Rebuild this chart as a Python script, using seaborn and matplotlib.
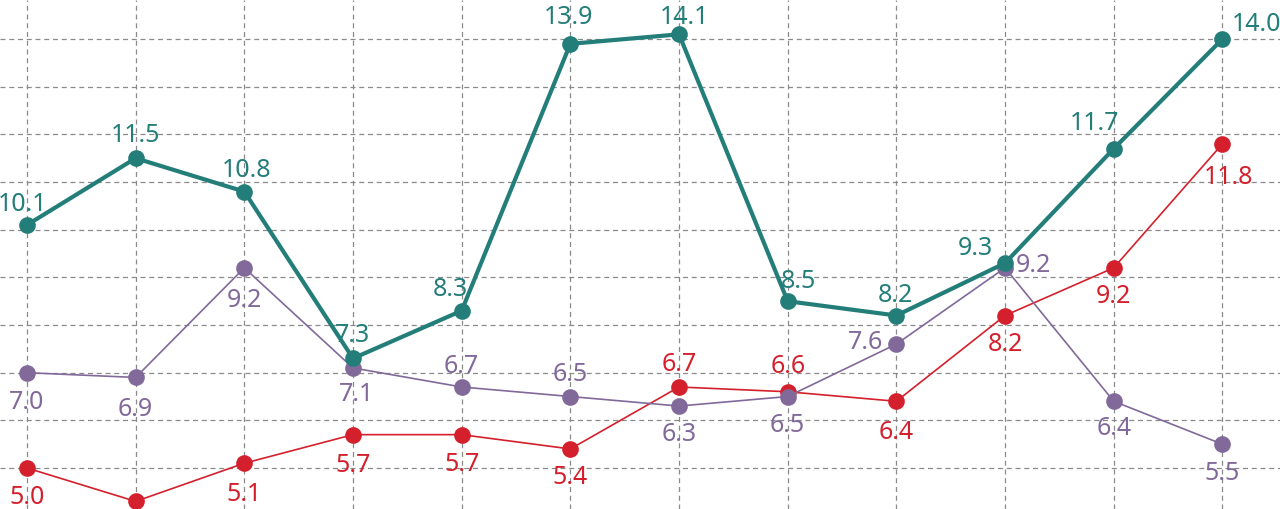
import matplotlib
matplotlib.use("Agg")
import matplotlib.pyplot as plt
import seaborn as sns
import pandas as pd

x = list(range(12))
teal_vals = [10.1, 11.5, 10.8, 7.3, 8.3, 13.9, 14.1, 8.5, 8.2, 9.3, 11.7, 14.0]
purple_vals = [7.0, 6.9, 9.2, 7.1, 6.7, 6.5, 6.3, 6.5, 7.6, 9.2, 6.4, 5.5]
red_vals = [5.0, 4.3, 5.1, 5.7, 5.7, 5.4, 6.7, 6.6, 6.4, 8.2, 9.2, 11.8]

# label offsets (pixels, visual centre relative to the point; +y = up)
teal_off = [(-4, 23), (0, 25), (2, 24), (0, 25), (-11, 24), (-2, 29), (5, 19),
            (11, 22), (-1, 23), (-30, 17), (-19, 28), (34, 17)]
purple_off = [(0, -27), (0, -30), (0, -30), (4, -24), (0, 23), (0, 25), (0, -26),
              (0, -26), (-31, 4), (28, 5), (0, -25), (0, -27)]
red_off = [(0, -27), (0, -27), (0, -29), (0, -28), (0, -27), (0, -26), (0, 25),
           (0, 28), (0, -29), (0, -26), (0, -26), (6, -31)]

TEAL = '#237E7A'
PURPLE = '#81699A'
RED = '#D4202C'

sns.set_theme(style="white")
plt.rcParams['font.family'] = ['Noto Sans', 'DejaVu Sans']

fig = plt.figure(figsize=(12.8, 5.09), dpi=100)
ax = fig.add_axes([0, 0, 1, 1])

df = pd.DataFrame({'x': x, 'teal': teal_vals, 'purple': purple_vals, 'red': red_vals})

sns.lineplot(data=df, x='x', y='red', ax=ax, color=RED, linewidth=1.2,
             marker='o', markersize=12, markeredgewidth=0, zorder=3)
sns.lineplot(data=df, x='x', y='purple', ax=ax, color=PURPLE, linewidth=1.2,
             marker='o', markersize=12, markeredgewidth=0, zorder=4)
sns.lineplot(data=df, x='x', y='teal', ax=ax, color=TEAL, linewidth=3,
             marker='o', markersize=12, markeredgewidth=0, zorder=5)

DIGIT_HALF = 9  # half the digit height in pixels


def label(vals, offs, color):
    for xi, v, (dx, dy) in zip(x, vals, offs):
        ax.annotate(f"{v:.1f}", (xi, v), xytext=(dx, dy - DIGIT_HALF),
                    textcoords='offset pixels', ha='center', va='baseline',
                    color=color, fontsize=18, zorder=6)


label(red_vals, red_off, RED)
label(purple_vals, purple_off, PURPLE)
label(teal_vals, teal_off, TEAL)

ax.set_xlim(-0.248, 11.53)
ax.set_ylim(4.14, 14.82)
ax.set_xticks(range(0, 12))
ax.set_yticks(range(5, 15))
ax.grid(True, color='#8a8a8a', linestyle=(0, (4, 3)), linewidth=0.9)
ax.set_axisbelow(True)
ax.tick_params(left=False, bottom=False, labelleft=False, labelbottom=False)
ax.set_xlabel('')
ax.set_ylabel('')
for s in ax.spines.values():
    s.set_visible(False)

fig.savefig('out.png', dpi=100)
